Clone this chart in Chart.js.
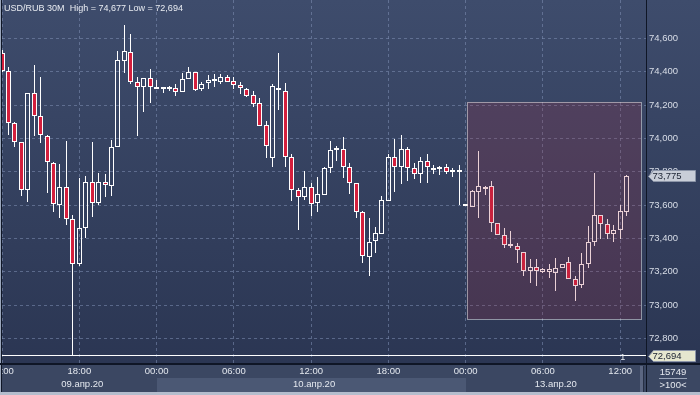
<!DOCTYPE html>
<html>
<head>
<meta charset="utf-8">
<script src="https://cdn.jsdelivr.net/npm/chart.js@4"></script>
<style>
html,body{margin:0;padding:0;background:#2e3a57;}
canvas{display:block;}
</style>
</head>
<body>
<canvas id="c" width="700" height="395"></canvas>
<script>
// ---- data (USD/RUB, 30-minute candles, 09.04.2020 12:00 -> 13.04.2020 12:30) ----
const symbol = 'USD/RUB';
const timeframe = '30M';
const opens = [74510,74406,74090,73976,73690,74270,74136,74012,73850,73598,
73706,73514,73244,73460,73740,73610,73736,73716,73950,74466,
74520,74336,74310,74360,74306,74296,74298,74304,74276,74354,
74396,74294,74330,74344,74340,74366,74342,74320,74294,74260,
74210,74078,73880,74304,74284,73886,73688,73646,73706,73614,
73658,73822,73932,73934,73826,73730,73556,73286,73384,73428,
73626,73886,73826,73938,73820,73786,73866,73820,73814,73826,
73798,73796,73596,73590,73680,73698,73716,73490,73420,73354,
73356,73320,73204,73226,73196,73200,73190,73220,73256,73154,
73120,73244,73376,73538,73484,73424,73448,73560];
const highs = [74530,74430,74100,73980,74270,74440,74366,74020,73860,73846,
73986,73540,73760,73774,73978,73790,73786,73990,74526,74677,
74626,74366,74360,74416,74350,74310,74314,74326,74394,74426,
74396,74340,74380,74386,74386,74380,74366,74340,74304,74284,
74240,74104,74326,74510,74332,73904,73700,73804,73730,73770,
73830,73984,73954,74006,73854,73730,73564,73520,73466,73654,
73906,73994,74020,73946,73850,73886,73906,73838,73834,73844,
73820,73840,73606,73690,73924,73714,73742,73490,73460,73444,
73370,73320,73276,73276,73224,73246,73284,73244,73290,73176,
73310,73474,73794,73538,73516,73480,73600,73778];
const lows = [74400,74020,73946,73656,73620,74016,73970,73670,73556,73520,
73480,72694,73236,73404,73530,73598,73646,73656,73950,74390,
74324,74016,74160,74214,74294,74274,74284,74256,74276,74354,
74282,74284,74294,74310,74326,74336,74298,74266,74250,74190,
74076,73884,73830,74170,73830,73626,73452,73632,73536,73560,
73658,73794,73866,73760,73664,73520,73254,73176,73310,73424,
73626,73676,73724,73744,73754,73730,73730,73788,73780,73784,
73770,73600,73594,73590,73524,73660,73440,73420,73340,73340,
73250,73176,73130,73116,73194,73160,73086,73220,73154,73026,
73104,73220,73354,73394,73394,73380,73396,73534];
const closes = [74406,74090,73976,73690,74270,74136,74018,73856,73606,73706,
73514,73244,73460,73736,73610,73736,73718,73946,74470,74524,
74340,74306,74360,74306,74294,74300,74300,74276,74354,74396,
74290,74326,74350,74346,74366,74336,74318,74300,74256,74208,
74076,73956,74312,74288,73886,73688,73646,73706,73608,73664,
73822,73930,73936,73826,73730,73556,73294,73380,73430,73630,
73886,73826,73938,73820,73784,73866,73826,73808,73826,73798,
73800,73796,73602,73684,73716,73710,73490,73420,73360,73356,
73330,73204,73226,73204,73214,73214,73220,73244,73154,73116,
73244,73376,73538,73484,73424,73450,73564,73775];

const timeTickIdx = [0,12,24,36,48,60,72,84,96];
const timeLabels = ['12:00','18:00','00:00','06:00','12:00','18:00','00:00','06:00','12:00'];
const dayStarts = [0,24,72];
const dayLabels = ['09.апр.20','10.апр.20','13.апр.20'];
const priceTicks = [72800,73000,73200,73400,73600,73800,74000,74200,74400,74600];
const sessionHigh = 74677;
const sessionLow = 72694;
const lastPrice = 73775;
const rectX = [72.15, 99.2];
const rectY = [74220, 72914];
const barCount = 15749;

// ---- helpers ----
const fmt = v => v.toLocaleString('en-US');
const FONT = '"Liberation Sans", Arial, sans-serif';
const idx = opens.map((_, i) => i);
const isBear = i => closes[i] < opens[i];
const RED = '#d41f3d';
const WHITE = '#ffffff';

function bgGrad(ctx, h) {
  const g = ctx.createLinearGradient(0, 0, 0, h);
  g.addColorStop(0, '#3e4c6c');
  g.addColorStop(1, '#2b3653');
  return g;
}

const decor = {
  id: 'decor',
  beforeDraw(chart) {
    const {ctx, chartArea: a, scales: {x}} = chart;
    ctx.save();
    ctx.fillStyle = bgGrad(ctx, a.bottom);
    ctx.fillRect(0, 0, chart.width, a.bottom);
    ctx.fillStyle = '#3b4762';
    ctx.fillRect(0, a.bottom, chart.width, chart.height - a.bottom);
    dayStarts.forEach((s, i) => {
      if (i % 2 === 1) {
        const x0 = x.getPixelForValue(s);
        const x1 = i + 1 < dayStarts.length ? x.getPixelForValue(dayStarts[i + 1]) : a.right;
        ctx.fillStyle = '#4b5874';
        ctx.fillRect(Math.round(x0), a.bottom + 15, Math.round(x1 - x0), 14);
      }
    });
    ctx.restore();
  },
  beforeDatasetsDraw(chart) {
    chart.data.datasets.forEach((ds, i) => {
      chart.getDatasetMeta(i).data.forEach(el => {
        el.x = Math.floor(el.x) + 0.5;
        el.y = Math.round(el.y);
        el.base = Math.round(el.base);
      });
    });
  },
  afterDatasetsDraw(chart) {
    const {ctx, chartArea: a, scales: {x, y}} = chart;
    ctx.save();
    // session low line
    const yl = Math.round(y.getPixelForValue(sessionLow)) - 0.5;
    ctx.strokeStyle = '#ffffff';
    ctx.lineWidth = 1;
    ctx.beginPath(); ctx.moveTo(a.left, yl); ctx.lineTo(a.right, yl); ctx.stroke();
    // highlighted rectangle
    const rx0 = Math.round(x.getPixelForValue(rectX[0]));
    const rx1 = Math.round(x.getPixelForValue(rectX[1]));
    const ry0 = Math.round(y.getPixelForValue(rectY[0]));
    const ry1 = Math.round(y.getPixelForValue(rectY[1]));
    ctx.fillStyle = 'rgba(163,46,68,0.22)';
    ctx.fillRect(rx0, ry0, rx1 - rx0, ry1 - ry0);
    ctx.setLineDash([1, 1]);
    ctx.strokeStyle = '#f2f2f2';
    ctx.strokeRect(rx0 + 0.5, ry0 + 0.5, rx1 - rx0, ry1 - ry0);
    ctx.restore();
  },
  afterDraw(chart) {
    const {ctx, chartArea: a, scales: {x, y}} = chart;
    const W = chart.width, H = chart.height;
    ctx.save();
    // frame lines
    ctx.fillStyle = '#9aa6bb'; ctx.fillRect(0, 0, 1, H);
    ctx.fillStyle = '#0f1626'; ctx.fillRect(1, 0, 1, H);
    ctx.fillStyle = '#0f1626'; ctx.fillRect(0, a.bottom, W, 2);
    ctx.fillStyle = '#0f1626'; ctx.fillRect(a.right, 0, 1, H);
    ctx.fillStyle = '#b4bdcd'; ctx.fillRect(0, H - 3, W, 3);
    // scroll marker
    ctx.fillStyle = '#5b6681'; ctx.fillRect(a.right - 6, a.bottom + 3, 3, 26);
    ctx.fillStyle = '#262f44'; ctx.fillRect(a.right - 3, a.bottom + 3, 1, 26);

    // day labels
    ctx.font = '9.5px ' + FONT;
    ctx.fillStyle = '#e4e8ef';
    ctx.textAlign = 'center';
    ctx.textBaseline = 'middle';
    dayStarts.forEach((s, i) => {
      const x0 = Math.max(a.left, x.getPixelForValue(s));
      const x1 = i + 1 < dayStarts.length ? x.getPixelForValue(dayStarts[i + 1]) : a.right - 6;
      ctx.fillText(dayLabels[i], (x0 + x1) / 2 + 3, a.bottom + 21);
    });

    // "1" marker
    ctx.font = '9px ' + FONT;
    ctx.fillStyle = '#e8ebf0';
    ctx.fillText('1', x.getPixelForValue(96.4), a.bottom - 5);

    // title
    const title = symbol + ' ' + timeframe + '  High = ' + fmt(sessionHigh) + ' Low = ' + fmt(sessionLow);
    ctx.font = '11px ' + FONT;
    const tw = ctx.measureText(title).width;
    const fs = 11 * 179 / tw;
    ctx.font = fs.toFixed(2) + 'px ' + FONT;
    ctx.textAlign = 'left';
    ctx.fillStyle = '#e9ecf2';
    ctx.fillText(title, 4, 9);

    // price tags
    function tag(val, fill, stroke) {
      const cy = Math.round(y.getPixelForValue(val)) + 0.5;
      const l = a.right + 2.5, r = W - 4.5;
      ctx.beginPath();
      ctx.moveTo(l, cy);
      ctx.lineTo(l + 5, cy - 6);
      ctx.lineTo(r, cy - 6);
      ctx.lineTo(r, cy + 5);
      ctx.lineTo(l + 5, cy + 5);
      ctx.closePath();
      ctx.fillStyle = fill; ctx.fill();
      ctx.strokeStyle = stroke; ctx.lineWidth = 1; ctx.stroke();
      ctx.font = '9.5px ' + FONT;
      ctx.fillStyle = '#1a2131';
      ctx.textAlign = 'left';
      ctx.textBaseline = 'middle';
      ctx.fillText(fmt(val), l + 4, cy);
    }
    tag(lastPrice, '#c9ced8', '#8c95a8');
    tag(sessionLow, '#e6e7cf', '#8c95a8');

    // corner box
    ctx.font = '9.5px ' + FONT;
    ctx.fillStyle = '#e6e9ef';
    ctx.textAlign = 'center';
    const cx = (a.right + W) / 2;
    ctx.fillText(String(barCount), cx, a.bottom + 9);
    ctx.fillStyle = '#9aa4b8';
    ctx.fillRect(cx - 14, a.bottom + 15, 28, 1);
    ctx.fillStyle = '#e6e9ef';
    ctx.fillText('>100<', cx, a.bottom + 22);
    ctx.restore();
  }
};

const wickUp = idx.map(i => ({x: i, y: [Math.max(opens[i], closes[i]), highs[i]]}));
const wickDown = idx.map(i => ({x: i, y: [lows[i], Math.min(opens[i], closes[i])]}));
const bodies = idx.map(i => ({x: i, y: [opens[i], closes[i]]}));

new Chart(document.getElementById('c'), {
  type: 'bar',
  data: {
    datasets: [
      {
        label: 'body', data: bodies, grouped: false, clip: 0,
        barThickness: 5, minBarLength: 2, borderWidth: 1, borderSkipped: false, inflateAmount: 0,
        borderColor: WHITE,
        backgroundColor: idx.map(i => isBear(i) ? RED : 'rgba(0,0,0,0)')
      },
      {
        label: 'upper wick', data: wickUp, grouped: false, clip: 0,
        barThickness: 1, borderWidth: 0, inflateAmount: 0, backgroundColor: WHITE
      },
      {
        label: 'lower wick', data: wickDown, grouped: false, clip: 0,
        barThickness: 1, borderWidth: 0, inflateAmount: 0, backgroundColor: WHITE
      }
    ]
  },
  options: {
    responsive: false,
    maintainAspectRatio: false,
    animation: false,
    events: [],
    layout: {padding: {left: 2, top: 0, right: 0, bottom: 0}},
    plugins: {legend: {display: false}, tooltip: {enabled: false}, title: {display: false}},
    scales: {
      x: {
        type: 'linear', min: 0, max: 100, offset: false,
        grid: {offset: false, drawTicks: false, color: 'rgba(128,144,180,0.55)', lineWidth: 1},
        border: {display: false, dash: [3, 3]},
        ticks: {
          autoSkip: false, maxRotation: 0, minRotation: 0, padding: 3,
          color: '#e4e8ef', font: {family: FONT, size: 9.5},
          callback: (v, i) => timeLabels[i]
        },
        afterBuildTicks: s => { s.ticks = timeTickIdx.map(v => ({value: v})); },
        afterFit: s => { s.height = 32; s.paddingLeft = 0; s.paddingRight = 0; }
      },
      y: {
        type: 'linear', position: 'right', min: 72652, max: 74830, beginAtZero: false,
        grid: {drawTicks: false, color: 'rgba(128,144,180,0.55)', lineWidth: 1},
        border: {display: false, dash: [3, 3]},
        ticks: {
          padding: 3, color: '#d9dee8', font: {family: FONT, size: 9.5},
          callback: v => fmt(v)
        },
        afterBuildTicks: s => { s.ticks = priceTicks.map(v => ({value: v})); },
        afterFit: s => { s.width = 54; s.paddingTop = 0; s.paddingBottom = 0; }
      }
    }
  },
  plugins: [decor]
});
</script>
</body>
</html>
